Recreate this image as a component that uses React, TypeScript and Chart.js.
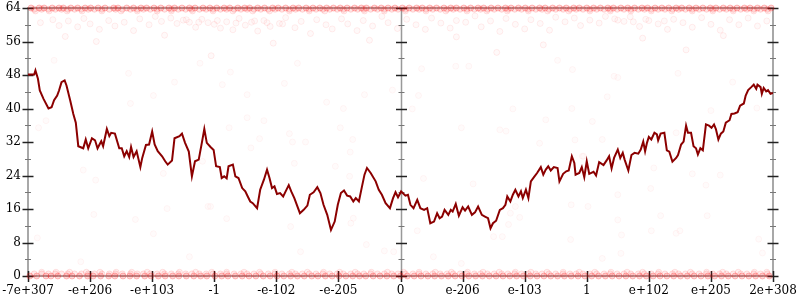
import React, { useEffect, useRef } from "react";
import { Chart, registerables } from "chart.js";

Chart.register(...registerables);

// x axis tick labels (float-space positions, -6..6 tick slots)
const xTickLabels = ["-7e+307", "-e+206", "-e+103", "-1", "-e-102", "-e-205", "0", "e-206", "e-103", "1", "e+102", "e+205", "2e+308"];
const yTicks = [0, 8, 16, 24, 32, 40, 48, 56, 64];

// Running line (x in tick slots, y value)
const lineX = [-6.0, -5.9, -5.88, -5.84, -5.81, -5.75, -5.67, -5.62, -5.58, -5.53, -5.5, -5.46, -5.41, -5.38, -5.32, -5.27, -5.23, -5.19, -5.11, -5.07, -5.03, -4.97, -4.92, -4.88, -4.82, -4.79, -4.73, -4.69, -4.66, -4.6, -4.53, -4.49, -4.45, -4.41, -4.37, -4.34, -4.3, -4.25, -4.19, -4.16, -4.1, -4.05, -4.0, -3.96, -3.91, -3.84, -3.79, -3.75, -3.68, -3.64, -3.56, -3.52, -3.47, -3.41, -3.36, -3.31, -3.25, -3.2, -3.16, -3.12, -3.06, -3.01, -2.97, -2.91, -2.88, -2.84, -2.8, -2.77, -2.7, -2.66, -2.61, -2.55, -2.5, -2.46, -2.42, -2.38, -2.31, -2.26, -2.2, -2.15, -2.11, -2.07, -2.03, -1.99, -1.94, -1.89, -1.85, -1.8, -1.76, -1.71, -1.62, -1.56, -1.5, -1.46, -1.4, -1.34, -1.29, -1.24, -1.18, -1.12, -1.06, -1.01, -0.96, -0.91, -0.86, -0.81, -0.76, -0.72, -0.67, -0.62, -0.58, -0.54, -0.48, -0.4, -0.35, -0.3, -0.24, -0.17, -0.12, -0.08, -0.04, 0.01, 0.08, 0.12, 0.16, 0.21, 0.27, 0.32, 0.38, 0.43, 0.48, 0.54, 0.59, 0.63, 0.67, 0.71, 0.77, 0.81, 0.84, 0.89, 0.94, 1.0, 1.04, 1.09, 1.15, 1.2, 1.25, 1.31, 1.36, 1.41, 1.45, 1.49, 1.54, 1.6, 1.65, 1.69, 1.72, 1.77, 1.81, 1.85, 1.9, 1.94, 1.97, 2.02, 2.06, 2.1, 2.15, 2.2, 2.26, 2.3, 2.34, 2.38, 2.42, 2.47, 2.53, 2.56, 2.62, 2.67, 2.71, 2.76, 2.8, 2.82, 2.88, 2.92, 2.96, 3.0, 3.04, 3.11, 3.15, 3.2, 3.27, 3.32, 3.36, 3.4, 3.44, 3.5, 3.54, 3.58, 3.61, 3.67, 3.72, 3.77, 3.83, 3.87, 3.91, 3.94, 3.97, 4.0, 4.04, 4.09, 4.13, 4.15, 4.19, 4.25, 4.29, 4.33, 4.38, 4.44, 4.47, 4.52, 4.56, 4.6, 4.63, 4.68, 4.72, 4.76, 4.79, 4.83, 4.87, 4.92, 4.97, 5.01, 5.05, 5.08, 5.12, 5.16, 5.2, 5.24, 5.3, 5.33, 5.38, 5.43, 5.47, 5.53, 5.56, 5.6, 5.65, 5.69, 5.73, 5.75, 5.8, 5.82, 5.85, 5.89, 5.92, 5.96, 6.0];
const lineY = [48.1, 48.1, 49.1, 47.1, 44.3, 42.3, 40.0, 40.3, 42.0, 43.1, 44.3, 46.3, 46.7, 45.5, 41.9, 38.7, 36.6, 31.0, 30.5, 32.6, 30.5, 32.9, 32.4, 30.5, 32.2, 31.0, 35.1, 33.4, 34.2, 34.0, 30.5, 30.5, 28.6, 29.8, 28.4, 30.8, 28.4, 29.8, 26.0, 28.2, 31.3, 31.4, 34.5, 31.4, 29.8, 28.6, 27.4, 26.6, 27.6, 32.9, 33.4, 34.0, 31.8, 29.7, 23.8, 27.4, 27.8, 31.8, 35.1, 31.8, 30.8, 30.1, 26.2, 26.0, 23.4, 23.8, 23.3, 26.2, 26.6, 23.8, 23.4, 21.0, 20.2, 19.0, 17.8, 17.4, 16.2, 20.6, 23.0, 25.4, 23.4, 21.0, 21.4, 19.6, 19.8, 19.0, 20.2, 21.7, 20.2, 18.6, 15.0, 15.8, 16.8, 19.4, 20.0, 21.2, 19.8, 17.0, 14.6, 11.0, 13.0, 17.0, 19.8, 20.4, 19.2, 19.0, 17.8, 18.6, 17.8, 21.4, 24.2, 25.8, 24.6, 22.6, 20.6, 19.4, 17.4, 16.2, 18.6, 20.0, 18.8, 20.2, 19.2, 19.4, 17.0, 16.2, 18.2, 16.2, 15.8, 16.2, 12.6, 13.0, 15.0, 13.8, 14.2, 15.8, 14.6, 15.8, 15.4, 17.2, 14.4, 16.4, 15.6, 16.6, 14.6, 15.2, 16.6, 14.6, 14.2, 13.8, 11.4, 12.6, 13.2, 15.8, 16.2, 17.0, 19.0, 17.8, 19.4, 20.6, 19.0, 20.2, 18.6, 20.6, 18.6, 22.6, 23.6, 24.6, 26.0, 24.2, 25.4, 26.2, 25.2, 26.0, 25.8, 22.6, 24.4, 25.0, 25.2, 28.6, 27.0, 24.2, 24.6, 26.0, 23.6, 27.4, 24.4, 24.9, 24.0, 27.2, 26.5, 27.6, 28.6, 25.7, 28.2, 30.2, 28.2, 29.4, 27.8, 25.2, 28.9, 29.4, 29.2, 30.2, 32.1, 29.8, 31.8, 33.2, 32.6, 34.2, 33.8, 32.4, 34.0, 34.2, 30.0, 29.7, 27.3, 28.2, 28.9, 31.4, 32.1, 35.9, 34.2, 34.2, 31.0, 30.5, 29.0, 30.5, 30.0, 36.2, 35.9, 35.4, 36.2, 35.1, 32.6, 34.0, 34.5, 36.6, 37.2, 38.7, 38.8, 39.1, 40.7, 41.2, 43.1, 44.4, 45.1, 45.7, 44.7, 45.7, 45.1, 43.5, 44.9, 44.1, 44.4, 43.5, 43.7];

// Sample cloud near the top
const cloudX = [-5.8, -5.6, -5.5, -5.35, -5.2, -5.1, -5.0, -4.85, -4.7, -4.6, -4.45, -4.3, -4.2, -4.05, -3.95, -3.85, -3.7, -3.6, -3.5, -3.4, -3.3, -3.2, -3.1, -3.0, -2.9, -2.8, -2.7, -2.6, -2.5, -2.4, -2.3, -2.2, -2.1, -1.95, -1.85, -1.7, -1.6, -1.45, -1.35, -1.2, -1.1, -0.95, -0.85, -0.7, -0.6, -0.45, -0.3, -0.2, -0.05, 0.1, 0.25, 0.4, 0.5, 0.65, 0.8, 0.9, 1.05, 1.2, 1.3, 1.45, 1.6, 1.7, 1.85, 2.0, 2.1, 2.25, 2.4, 2.5, 2.65, 2.8, 2.9, 3.05, 3.2, 3.3, 3.45, 3.6, 3.7, 3.85, 4.0, 4.15, 4.3, 4.4, 4.55, 4.7, 4.85, 5.0, 5.15, 5.3, 5.45, 5.6, 5.75, 5.9, -5.4, -4.9, -3.8, -2.05, -0.5, 0.9, 2.3, 3.9, 5.2, -3.05, 1.55, 4.6, -3.45, -3.25, -2.95, -2.65, -2.35, -2.15, -1.9, 3.5, 3.75, 3.95, 4.25];
const cloudY = [60.5, 61.2, 59.8, 60.9, 59.5, 61.5, 60.2, 58.9, 61.0, 59.7, 60.6, 58.6, 61.4, 60.0, 62.0, 60.8, 61.6, 60.3, 61.1, 60.6, 59.4, 61.3, 60.5, 60.1, 59.2, 60.7, 58.8, 61.5, 59.9, 60.6, 58.5, 61.0, 59.6, 60.3, 61.7, 59.3, 60.8, 57.9, 61.2, 60.0, 59.0, 61.4, 60.2, 58.6, 61.0, 59.7, 62.0, 60.5, 59.1, 61.3, 60.0, 58.9, 61.6, 60.4, 59.2, 61.0, 60.6, 62.1, 59.5, 60.9, 58.4, 61.5, 60.1, 59.0, 61.2, 60.3, 58.7, 61.8, 60.7, 61.6, 59.8, 61.1, 60.4, 62.0, 61.4, 60.8, 61.9, 59.6, 61.0, 60.2, 58.9, 61.3, 60.5, 59.4, 61.7, 60.1, 58.7, 61.2, 60.0, 61.6, 59.7, 60.9, 57.2, 56.0, 57.5, 55.6, 56.3, 57.1, 55.2, 56.8, 57.4, 52.6, 53.4, 54.0, 61.2, 60.6, 61.0, 60.4, 60.9, 60.5, 60.2, 61.1, 60.7, 61.3, 60.9];

// Sparse samples across the plot
const sparseX = [-4.38, -3.98, -4.35, -3.64, -5.71, -5.83, -5.11, -4.91, -3.82, -4.94, -4.27, -3.76, -3.1, -3.98, -5.85, -3.19, -5.58, -3.23, -1.66, -2.74, -2.87, -1.87, -2.47, -0.58, -1.19, -0.92, -0.13, -2.47, -2.2, -2.76, -0.97, -1.79, -2.27, -1.53, -0.77, -1.74, -2.41, -0.81, -1.71, -1.05, -0.82, -3.06, -2.8, -1.77, -0.76, -0.8, 0.34, 0.89, 1.1, 2.53, 2.77, 0.29, 0.19, 1.81, 2.76, 2.34, 0.98, 1.6, 1.7, 2.24, 2.81, 0.37, 1.17, 1.85, 1.77, 1.92, 1.74, 0.27, 1.5, 1.64, 2.75, 2.74, 2.93, 4.47, 3.44, 3.5, 5.35, 3.33, 5.0, 3.09, 5.74, 3.25, 4.44, 4.08, 4.7, 5.15, 4.92, 4.03, 3.5, 2.95, 3.02, 4.19, 3.5, 4.04, 4.44, 4.5, 3.56, 5.77, 4.94, -5.15, -3.4, 5.83, 3.55, 3.25, -0.55, -0.26, -0.11, 0.98, -1.61, 0.53];
const sparseY = [48.4, 43.1, 41.2, 46.3, 37.1, 35.4, 25.3, 22.9, 24.5, 14.7, 13.5, 16.1, 16.6, 10.1, 9.1, 27.4, 51.5, 50.8, 50.8, 48.7, 45.7, 46.0, 43.3, 43.3, 41.5, 40.0, 44.4, 37.8, 37.1, 35.4, 35.4, 34.0, 32.8, 32.0, 32.6, 32.0, 30.6, 29.6, 26.9, 26.2, 23.8, 16.6, 13.7, 11.8, 13.8, 12.6, 49.5, 50.1, 50.1, 51.5, 49.3, 43.1, 39.9, 39.9, 40.0, 37.3, 35.4, 34.9, 34.6, 31.7, 32.5, 23.3, 22.0, 16.6, 15.0, 14.0, 12.3, 10.8, 9.4, 9.4, 17.0, 8.7, 28.6, 48.4, 47.7, 47.4, 46.3, 42.8, 39.5, 36.9, 40.1, 32.6, 34.2, 25.8, 24.4, 24.1, 21.7, 20.9, 19.4, 28.6, 16.6, 14.4, 13.4, 10.8, 10.2, 10.8, 9.8, 8.8, 14.4, 3.4, 4.6, 5.5, 5.4, 4.2, 7.5, 6.0, 5.8, 3.0, 5.8, 4.6];

// Samples piled at the limits (64 and 0) and just inside them
const bandAX = [-5.95, -5.82, -5.74, -5.61, -5.5, -5.43, -5.31, -5.2, -5.08, -4.99, -4.87, -4.76, -4.62, -4.55, -4.41, -4.3, -4.18, -4.09, -3.97, -3.86, -3.73, -3.64, -3.52, -3.4, -3.31, -3.18, -3.07, -2.96, -2.84, -2.75, -2.62, -2.51, -2.43, -2.3, -2.19, -2.06, -1.97, -1.85, -1.73, -1.64, -1.52, -1.41, -1.3, -1.19, -1.08, -0.97, -0.86, -0.74, -0.63, -0.55, -0.42, -0.31, -0.2, -0.09, 0.03, 0.14, 0.26, 0.35, 0.47, 0.58, 0.7, 0.81, 0.9, 1.02, 1.13, 1.25, 1.34, 1.46, 1.57, 1.69, 1.78, 1.9, 2.01, 2.12, 2.24, 2.33, 2.45, 2.56, 2.67, 2.79, 2.88, 3.0, 3.11, 3.22, 3.34, 3.43, 3.55, 3.66, 3.77, 3.89, 3.98, 4.1, 4.21, 4.32, 4.44, 4.53, 4.65, 4.76, 4.87, 4.99, 5.08, 5.2, 5.31, 5.42, 5.54, 5.63, 5.75, 5.86, 5.97];
const bandBX = [-5.9, -5.78, -5.67, -5.56, -5.46, -5.36, -5.25, -5.14, -5.03, -4.93, -4.81, -4.69, -4.59, -4.48, -4.35, -4.24, -4.14, -4.03, -3.92, -3.8, -3.69, -3.58, -3.46, -3.36, -3.24, -3.13, -3.02, -2.9, -2.8, -2.68, -2.57, -2.47, -2.36, -2.25, -2.13, -2.02, -1.91, -1.79, -1.69, -1.58, -1.47, -1.36, -1.25, -1.14, -1.02, -0.92, -0.8, -0.69, -0.59, -0.48, -0.37, -0.26, -0.14, -0.04, 0.08, 0.2, 0.3, 0.41, 0.52, 0.64, 0.75, 0.85, 0.96, 1.07, 1.19, 1.29, 1.4, 1.51, 1.63, 1.73, 1.84, 1.95, 2.06, 2.18, 2.28, 2.39, 2.5, 2.62, 2.73, 2.83, 2.94, 3.05, 3.16, 3.28, 3.38, 3.49, 3.6, 3.71, 3.83, 3.93, 4.04, 4.15, 4.26, 4.38, 4.48, 4.59, 4.7, 4.81, 4.93, 5.03, 5.14, 5.25, 5.36, 5.48, 5.58, 5.69, 5.8, 5.91];
const bandCX = [-5.88, -5.66, -5.37, -5.13, -4.81, -4.5, -4.24, -3.92, -3.69, -3.35, -3.02, -2.7, -2.38, -2.11, -1.79, -1.47, -1.22, -0.91, -0.58, -0.26, 0.08, 0.41, 0.73, 1.07, 1.39, 1.72, 2.06, 2.37, 2.71, 3.05, 3.38, 3.71, 4.04, 4.37, 4.7, 5.03, 5.36, 5.69, 5.92];
const botZeroX = [-5.97, -5.86, -5.71, -5.63, -5.52, -5.38, -5.29, -5.17, -5.04, -4.95, -4.83, -4.7, -4.6, -4.47, -4.36, -4.25, -4.12, -4.02, -3.9, -3.79, -3.67, -3.57, -3.45, -3.33, -3.22, -3.12, -2.99, -2.88, -2.78, -2.66, -2.55, -2.44, -2.33, -2.21, -2.1, -1.99, -1.88, -1.77, -1.66, -1.55, -1.43, -1.33, -1.21, -1.1, -0.99, -0.88, -0.77, -0.66, -0.56, -0.44, -0.33, -0.22, -0.11, 0.0, 0.11, 0.22, 0.33, 0.44, 0.55, 0.66, 0.77, 0.88, 0.99, 1.1, 1.21, 1.32, 1.43, 1.54, 1.65, 1.76, 1.87, 1.98, 2.09, 2.2, 2.31, 2.42, 2.53, 2.64, 2.75, 2.86, 2.97, 3.08, 3.19, 3.3, 3.41, 3.52, 3.63, 3.74, 3.85, 3.96, 4.07, 4.18, 4.29, 4.4, 4.51, 4.62, 4.73, 4.84, 4.95, 5.06, 5.17, 5.28, 5.39, 5.5, 5.61, 5.72, 5.83, 5.94];
const botNearX = [-5.78, -5.55, -5.33, -5.06, -4.84, -4.58, -4.33, -4.08, -3.83, -3.56, -3.3, -3.04, -2.8, -2.52, -2.27, -2.02, -1.75, -1.5, -1.24, -0.98, -0.73, -0.47, -0.21, 0.05, 0.3, 0.56, 0.82, 1.08, 1.33, 1.59, 1.85, 2.1, 2.36, 2.62, 2.88, 3.13, 3.39, 3.65, 3.9, 4.16, 4.42, 4.67, 4.93, 5.19, 5.44, 5.7, 5.9];
const topValues = [64, 63.7, 63.3];
const botValues = [0, 0.5, 0.9];

const pts = (xs: number[], ys: number[] | number) =>
  xs.map((x, i) => ({ x, y: typeof ys === "number" ? ys : ys[i] }));

const frame = {
  id: "frame",
  beforeDatasetsDraw(chart: any) {
    const { ctx, chartArea: a, scales } = chart;
    const x = scales.x, y = scales.y;
    const seg = (x1: number, y1: number, x2: number, y2: number) => {
      ctx.beginPath(); ctx.moveTo(x1, y1); ctx.lineTo(x2, y2); ctx.stroke();
    };
    ctx.save();
    ctx.strokeStyle = "#a8a8a8";
    ctx.lineWidth = 2;
    ctx.strokeRect(a.left, a.top, a.right - a.left, a.bottom - a.top);
    const x0 = Math.round(x.getPixelForValue(0)) + 0.5;
    ctx.lineWidth = 1.5;
    ctx.strokeStyle = "#999";
    seg(x0, a.top, x0, a.bottom);
    for (let v = 0; v <= 64; v += 4) {
      const py = Math.round(y.getPixelForValue(v)) + 0.5;
      const major = v % 8 === 0;
      const len = major ? 5.5 : 3;
      ctx.strokeStyle = major ? "#222" : "#777";
      ctx.lineWidth = major ? 1.5 : 1;
      for (const xp of [a.left, x0, a.right]) seg(xp - len, py, xp + len, py);
    }
    ctx.strokeStyle = "#222";
    ctx.lineWidth = 1.5;
    for (let t = -6; t <= 6; t++) {
      const px = Math.round(x.getPixelForValue(t)) + 0.5;
      seg(px, a.bottom - 5, px, a.bottom + 6);
    }
    ctx.restore();
  },
};

export default function App() {
  const ref = useRef<HTMLCanvasElement>(null);
  useEffect(() => {
    document.body.style.margin = "0";
    const font = { family: "DejaVu Serif", size: 12 };
    const dots = (fill: number, edge: number, data: any[]) => ({
      type: "scatter" as const,
      showLine: false,
      pointRadius: 3,
      pointBackgroundColor: `rgba(255,0,0,${fill})`,
      pointBorderColor: `rgba(255,0,0,${edge})`,
      pointBorderWidth: 1,
      clip: 6,
      data,
    });
    const chart = new Chart(ref.current!, {
      type: "scatter",
      data: {
        datasets: [
          dots(0.025, 0.07, pts(cloudX, cloudY)),
          dots(0.015, 0.04, pts(sparseX, sparseY)),
          dots(0.06, 0.1, pts(bandCX, topValues[2])),
          dots(0.1, 0.14, pts(bandBX, topValues[1])),
          dots(0.16, 0.22, pts(bandAX, topValues[0])),
          dots(0.06, 0.1, pts(botNearX, botValues[2])),
          dots(0.08, 0.12, pts(bandBX, botValues[1])),
          dots(0.16, 0.22, pts(botZeroX, botValues[0])),
          {
            type: "scatter" as const,
            showLine: true,
            data: pts(lineX, lineY),
            borderColor: "#8b0000",
            borderWidth: 2,
            pointRadius: 0,
            tension: 0,
          } as any,
        ],
      },
      options: {
        animation: false,
        responsive: false,
        maintainAspectRatio: false,
        layout: { padding: 0 },
        plugins: { legend: { display: false }, tooltip: { enabled: false } },
        scales: {
          x: {
            type: "linear",
            min: -6,
            max: 6,
            grid: { display: false, drawTicks: false },
            border: { display: false },
            ticks: {
              stepSize: 1,
              autoSkip: false,
              maxRotation: 0,
              padding: 8,
              color: "#000",
              font,
              callback: (v: any) => xTickLabels[Math.round(Number(v)) + 6] ?? "",
            },
            afterFit: (s: any) => { s.height = 24; s.paddingLeft = 0; s.paddingRight = 27; },
          },
          y: {
            type: "linear",
            min: 0,
            max: 64,
            afterBuildTicks: (s: any) => { s.ticks = yTicks.map((v) => ({ value: v })); },
            grid: { display: false, drawTicks: false },
            border: { display: false },
            ticks: { padding: 7, color: "#000", font },
            afterFit: (s: any) => { s.width = 28; s.paddingTop = 8; s.paddingBottom = 0; },
          },
        },
      },
      plugins: [frame],
    });
    return () => chart.destroy();
  }, []);
  return (
    <div style={{ width: 800, height: 300 }}>
      <canvas ref={ref} width={800} height={300} />
    </div>
  );
}
